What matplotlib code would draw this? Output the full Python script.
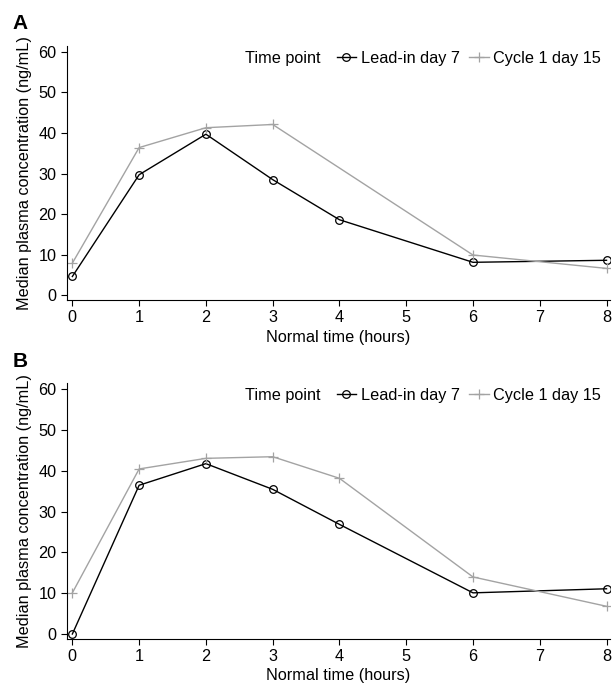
import matplotlib
matplotlib.use("Agg")
import matplotlib.pyplot as plt

plt.rcParams['font.family'] = ['Liberation Sans', 'DejaVu Sans']
plt.rcParams['font.size'] = 11.7

# Data
hours = [0, 1, 2, 3, 4, 6, 8]

# Panel A
lead_a = [4.6, 29.7, 39.7, 28.5, 18.6, 8.1, 8.6]
cycle_a_hours = [0, 1, 2, 3, 6, 8]
cycle_a = [7.9, 36.4, 41.3, 42.1, 9.9, 6.6]

# Panel B
lead_b = [0.0, 36.5, 41.8, 35.5, 26.9, 10.1, 11.1]
cycle_b_hours = [0, 1, 2, 3, 4, 6, 8]
cycle_b = [10.1, 40.5, 43.1, 43.5, 38.2, 14.0, 6.8]

panels = [
    ("A", hours, lead_a, cycle_a_hours, cycle_a),
    ("B", hours, lead_b, cycle_b_hours, cycle_b),
]

fig = plt.figure(figsize=(6.12, 6.87), dpi=100)
positions = [[0.1095, 0.5633, 0.887, 0.370], [0.1095, 0.070, 0.887, 0.372]]
gray = '#a3a3a3'
fs = 11.7

for (label, lx, ly, cx, cy), pos in zip(panels, positions):
    ax = fig.add_axes(pos)
    ax.plot(lx, ly, color='black', lw=1, marker='o', markersize=5.5,
            markerfacecolor='none', markeredgecolor='black', markeredgewidth=0.9,
            label='Lead-in day 7')
    ax.plot(cx, cy, color=gray, lw=1, marker='+', markersize=7,
            markeredgewidth=0.9, label='Cycle 1 day 15')
    ax.set_xlim(-0.08, 8.05)
    ax.set_ylim(-1.2, 61.5)
    ax.set_xticks(range(0, 9))
    ax.set_yticks(range(0, 61, 10))
    ax.spines['top'].set_visible(False)
    ax.spines['right'].set_visible(False)
    ax.tick_params(direction='out', length=4.5, width=0.8, labelsize=fs, pad=3)
    ax.set_xlabel('Normal time (hours)', fontsize=fs, labelpad=3)
    ax.set_ylabel('Median plasma concentration (ng/mL)', fontsize=fs, labelpad=5)
    ax.text(0.328, 0.952, 'Time point', transform=ax.transAxes, fontsize=fs,
            va='center', ha='left')
    ax.legend(loc='center right', bbox_to_anchor=(0.996, 0.952), ncol=2,
              frameon=False, fontsize=fs, handlelength=1.2, handletextpad=0.3,
              columnspacing=0.55, borderaxespad=0)
    fig.text(0.02, pos[1] + pos[3] + 0.018, label, fontsize=15,
             fontweight='bold', va='bottom', ha='left')

plt.savefig('out.png', dpi=100)
